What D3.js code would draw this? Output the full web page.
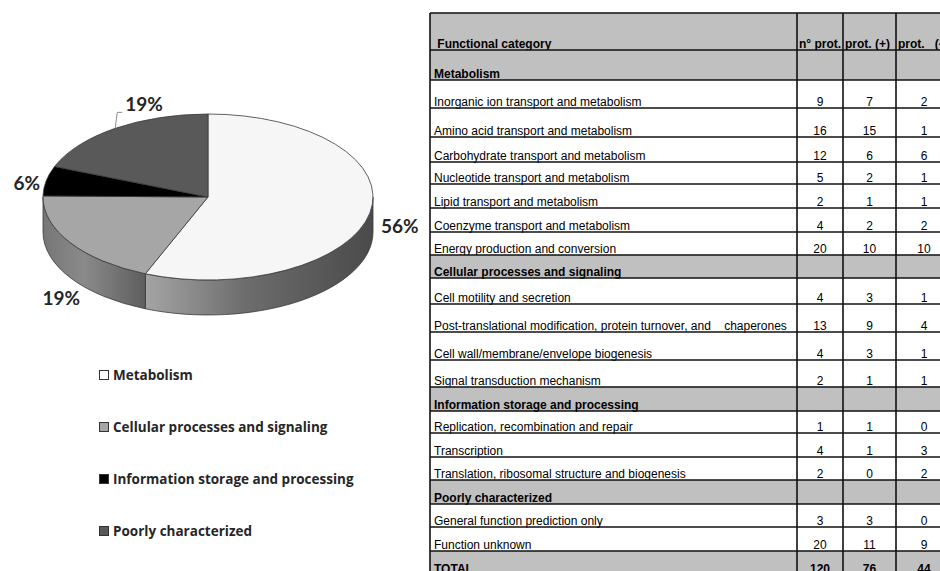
<!DOCTYPE html>
<html>
<head>
<meta charset="utf-8">
<script src="https://cdn.jsdelivr.net/npm/d3@7"></script>
<style>
  body { margin: 0; background: #fff; }
  svg { display: block; }
  .cell { font-family: "Liberation Sans", Arial, sans-serif; font-size: 12px; fill: #000; white-space: pre; }
  .bold { font-weight: bold; }
  .pct { font-family: Lato, "Open Sans", sans-serif; font-weight: 700; font-size: 19px; fill: #262626; }
  .leg { font-family: "Open Sans", Lato, sans-serif; font-weight: 700; font-size: 13.5px; fill: #262626; }
</style>
</head>
<body>
<svg id="chart" width="940" height="571"></svg>
<script>
// ---- data -------------------------------------------------------------
const groups = [
  "Metabolism",
  "Cellular processes and signaling",
  "Information storage and processing",
  "Poorly characterized"
];
// functional categories and the group each belongs to
const categories = [
  "Inorganic ion transport and metabolism",
  "Amino acid transport and metabolism",
  "Carbohydrate transport and metabolism",
  "Nucleotide transport and metabolism",
  "Lipid transport and metabolism",
  "Coenzyme transport and metabolism",
  "Energy production and conversion",
  "Cell motility and secretion",
  "Post-translational modification, protein turnover, and    chaperones",
  "Cell wall/membrane/envelope biogenesis",
  "Signal transduction mechanism",
  "Replication, recombination and repair",
  "Transcription",
  "Translation, ribosomal structure and biogenesis",
  "General function prediction only",
  "Function unknown"
];
const categoryGroup = [0, 0, 0, 0, 0, 0, 0, 1, 1, 1, 1, 2, 2, 2, 3, 3];
const nProt     = [9, 16, 12, 5, 2, 4, 20, 4, 13, 4, 2, 1, 4, 2, 3, 20];
const protPlus  = [7, 15, 6, 2, 1, 2, 10, 3, 9, 3, 1, 1, 1, 0, 3, 11];
const protMinus = [2, 1, 6, 1, 1, 2, 10, 1, 4, 1, 1, 0, 3, 2, 0, 9];
const totals = [120, 76, 44];
const columnHeaders = [" Functional category", "n\u00b0 prot.", "prot. (+)", "prot.   (-)"];

// ---- styling / layout ---------------------------------------------------
const groupFills = ["#f6f6f6", "#a6a6a6", "#000000", "#595959"];
const headerFill = "#c0c0c0";
// row heights of the table, top to bottom (header, group rows, category rows, total)
const rowHeights = [37, 30, 28, 29, 25, 22, 24, 24, 23, 23, 26, 28, 28, 27, 24, 22, 24, 23, 24, 23, 24, 24];
const colEdges = [430, 797, 843, 896, 952];
const tableTop = 13;

const svg = d3.select("#chart");

// ---- pie (3D look) --------------------------------------------------------
const groupTotals = groups.map((g, i) => d3.sum(nProt.filter((_, k) => categoryGroup[k] === i)));
const grand = d3.sum(groupTotals);

const cx = 208, cy = 197, rx = 165, ry = 83, depth = 35;
const pie = d3.pie().sort(null).startAngle(0).endAngle(2 * Math.PI)(groupTotals);
const pt = (a, dy = 0) => [cx + rx * Math.sin(a), cy - ry * Math.cos(a) + dy];

const defs = svg.append("defs");
const sideStops = [
  [[0, "#a4a4a4"], [0.45, "#6c6c6c"], [1, "#4a4a4a"]],
  [[0, "#767676"], [0.4, "#8a8a8a"], [1, "#5e5e5e"]],
  [[0, "#1a1a1a"], [1, "#000"]],
  [[0, "#3a3a3a"], [1, "#2a2a2a"]]
];
sideStops.forEach((stops, i) => {
  const g = defs.append("linearGradient").attr("id", "side" + i)
    .attr("x1", "0").attr("x2", "1").attr("y1", "0").attr("y2", "0");
  stops.forEach(([o, c]) => g.append("stop").attr("offset", o).attr("stop-color", c));
});

const pieG = svg.append("g");

// front side walls: visible only between 90° and 270°
pie.forEach((d, i) => {
  const a0 = Math.max(d.startAngle, Math.PI / 2);
  const a1 = Math.min(d.endAngle, 3 * Math.PI / 2);
  if (a1 <= a0) return;
  const large = (a1 - a0) > Math.PI ? 1 : 0;
  const [x0, y0] = pt(a0), [x1, y1] = pt(a1);
  const [bx0, by0] = pt(a0, depth), [bx1, by1] = pt(a1, depth);
  const p = `M${x0},${y0} A${rx},${ry} 0 ${large} 1 ${x1},${y1} L${bx1},${by1} ` +
            `A${rx},${ry} 0 ${large} 0 ${bx0},${by0} Z`;
  pieG.append("path").attr("d", p)
    .attr("fill", `url(#side${i})`)
    .attr("stroke", "#3a3a3a").attr("stroke-width", 0.8);
});

// top faces
pie.forEach((d, i) => {
  const [x0, y0] = pt(d.startAngle), [x1, y1] = pt(d.endAngle);
  const large = (d.endAngle - d.startAngle) > Math.PI ? 1 : 0;
  const p = `M${cx},${cy} L${x0},${y0} A${rx},${ry} 0 ${large} 1 ${x1},${y1} Z`;
  pieG.append("path").attr("d", p)
    .attr("fill", groupFills[i])
    .attr("stroke", "#3a3a3a").attr("stroke-width", 0.8);
});

// percentage labels, placed from each slice's mid angle
const labelOffsets = [
  { dx: 11, dy: 20, anchor: "start" },
  { dx: -9, dy: 62, anchor: "middle" },
  { dx: -6, dy: 9, anchor: "end" },
  { dx: 10, dy: -17, anchor: "start", leader: true }
];
pie.forEach((d, i) => {
  const mid = (d.startAngle + d.endAngle) / 2;
  const [mx, my] = pt(mid);
  const o = labelOffsets[i];
  const pctText = Math.round(d.value / grand * 100) + "%";
  if (o.leader) {
    pieG.append("path")
      .attr("d", `M${mx},${my} L${mx + 2},${my + o.dy + 1} L${mx + o.dx - 3},${my + o.dy + 1}`)
      .attr("fill", "none").attr("stroke", "#8c8c8c").attr("stroke-width", 1);
  }
  pieG.append("text").attr("class", "pct")
    .attr("x", mx + o.dx).attr("y", my + o.dy)
    .attr("text-anchor", o.anchor)
    .text(pctText);
});

// legend
const legY = d3.scalePoint().domain(groups).range([375, 531]);
const leg = svg.append("g");
groups.forEach((g, i) => {
  const y = legY(g);
  leg.append("rect").attr("x", 99.5).attr("y", y - 4.5).attr("width", 9).attr("height", 9)
    .attr("fill", groupFills[i] === "#f6f6f6" ? "#fff" : groupFills[i])
    .attr("stroke", "#333").attr("stroke-width", 1);
  leg.append("text").attr("class", "leg").attr("x", 113).attr("y", y + 5).text(g);
});

// ---- table ------------------------------------------------------------------
const rows = [{ type: "header", cells: columnHeaders }];
groups.forEach((g, gi) => {
  rows.push({ type: "group", cells: [g, "", "", ""] });
  categories.forEach((c, k) => {
    if (categoryGroup[k] === gi) rows.push({ type: "row", cells: [c, nProt[k], protPlus[k], protMinus[k]] });
  });
});
rows.push({ type: "total", cells: ["TOTAL", ...totals] });

const rowTops = [tableTop];
rowHeights.forEach(h => rowTops.push(rowTops[rowTops.length - 1] + h));

const tbl = svg.append("g");
rows.forEach((r, ri) => {
  const y0 = rowTops[ri], y1 = rowTops[ri + 1];
  const gray = r.type !== "row";
  if (gray) {
    tbl.append("rect").attr("x", colEdges[0]).attr("y", y0)
      .attr("width", colEdges[colEdges.length - 1] - colEdges[0]).attr("height", y1 - y0)
      .attr("fill", headerFill);
  }
  r.cells.forEach((c, ci) => {
    if (c === "") return;
    const t = tbl.append("text").attr("class", "cell" + (r.type === "row" ? "" : " bold"))
      .attr("y", y1 - 2.5);
    if (ci === 0) {
      t.attr("x", colEdges[0] + 4);
    } else if (r.type === "header") {
      t.attr("x", colEdges[ci] + 2);
    } else {
      t.attr("x", (colEdges[ci] + colEdges[ci + 1]) / 2).attr("text-anchor", "middle");
    }
    t.text(c);
  });
});

// grid lines
rowTops.forEach(y => {
  tbl.append("line").attr("x1", colEdges[0]).attr("x2", colEdges[colEdges.length - 1])
    .attr("y1", y).attr("y2", y).attr("stroke", "#111").attr("stroke-width", 1.6);
});
colEdges.forEach(x => {
  tbl.append("line").attr("x1", x).attr("x2", x)
    .attr("y1", tableTop).attr("y2", rowTops[rowTops.length - 1])
    .attr("stroke", "#111").attr("stroke-width", 1.6);
});
</script>
</body>
</html>
